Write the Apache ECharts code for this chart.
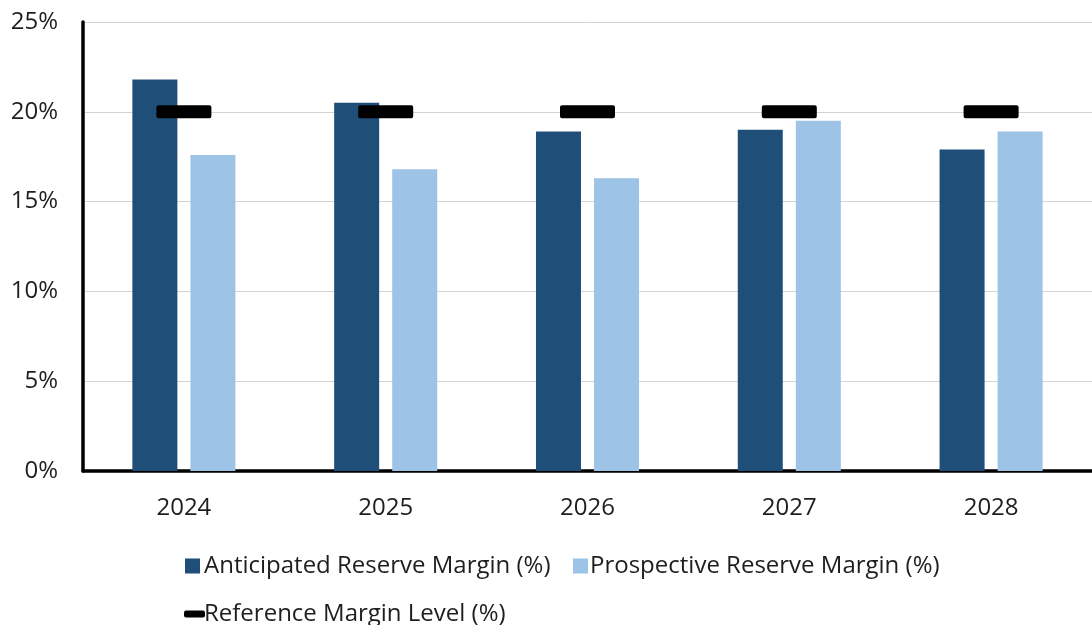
<!DOCTYPE html>
<html><head><meta charset="utf-8">
<script src="https://cdn.jsdelivr.net/npm/echarts@6/dist/echarts.min.js"></script>
<style>html,body{margin:0;padding:0;background:#fff}#c{width:1092px;height:625px}</style>
</head><body><div id="c"></div>
<script>
const categories = ['2024', '2025', '2026', '2027', '2028'];
const anticipated = [21.8, 20.5, 18.9, 19.0, 17.9];
const prospective = [17.6, 16.8, 16.3, 19.5, 18.9];
const reference = [20, 20, 20, 20, 20];
const yTicks = [0, 5, 10, 15, 20, 25];

const FONT = 'Open Sans';
const TXT = '#1e1e1e';
const FS = 24;
const markerPath = 'path://M2,0 H53 A2,2 0 0 1 55,2 V11 A2,2 0 0 1 53,13 H2 A2,2 0 0 1 0,11 V2 A2,2 0 0 1 2,0 Z';
const legendIconPath = 'path://M2,0 H19 A2,2 0 0 1 21,2 V5 A2,2 0 0 1 19,7 H2 A2,2 0 0 1 0,5 V2 A2,2 0 0 1 2,0 Z';
const chart = echarts.init(document.getElementById('c'));
chart.setOption({
  animation: false,
  backgroundColor: '#fff',
  grid: { left: 83, right: 0, top: 22, bottom: 154, containLabel: false },
  legend: [{
    left: 180, top: 549, itemWidth: 15, itemHeight: 15,
    textStyle: { fontFamily: FONT, fontSize: FS, color: TXT, padding: [0, 0, 0, -1] },
    data: [{ name: 'Anticipated Reserve Margin (%)', icon: 'rect' }]
  }, {
    left: 568, top: 549, itemWidth: 15, itemHeight: 15,
    textStyle: { fontFamily: FONT, fontSize: FS, color: TXT, padding: [0, 0, 0, -3] },
    data: [{ name: 'Prospective Reserve Margin (%)', icon: 'rect' }]
  }, {
    left: 179, top: 597, itemWidth: 21, itemHeight: 7,
    textStyle: { fontFamily: FONT, fontSize: FS, color: TXT, padding: [0, 0, 0, -6] },
    data: [{ name: 'Reference Margin Level (%)', icon: legendIconPath }]
  }],
  xAxis: {
    type: 'category', data: categories,
    axisLine: { show: true, lineStyle: { color: '#000', width: 3.5 } },
    axisTick: { show: false },
    axisLabel: { fontFamily: FONT, fontSize: FS, color: TXT, margin: 25 }
  },
  yAxis: {
    type: 'value', min: 0, max: 25, interval: 5,
    axisLine: { show: true, lineStyle: { color: '#000', width: 3.5 } },
    axisTick: { show: false },
    axisLabel: { fontFamily: FONT, fontSize: FS, color: TXT, margin: 25,
      formatter: v => yTicks.includes(v) ? v + '%' : '' },
    splitLine: { lineStyle: { color: '#d4d4d4', width: 1 } }
  },
  series: [{
    name: 'Anticipated Reserve Margin (%)', type: 'bar', data: anticipated,
    barWidth: 45, barGap: '29%', itemStyle: { color: '#1F4E79' }, z: 2
  }, {
    name: 'Prospective Reserve Margin (%)', type: 'bar', data: prospective,
    barWidth: 45, itemStyle: { color: '#9DC3E6' }, z: 2
  }, {
    name: 'Reference Margin Level (%)', type: 'scatter', data: reference,
    symbol: markerPath, symbolSize: [55, 13], symbolKeepAspect: false,
    itemStyle: { color: '#000', opacity: 1 }, z: 5
  }]
});
</script></body></html>
